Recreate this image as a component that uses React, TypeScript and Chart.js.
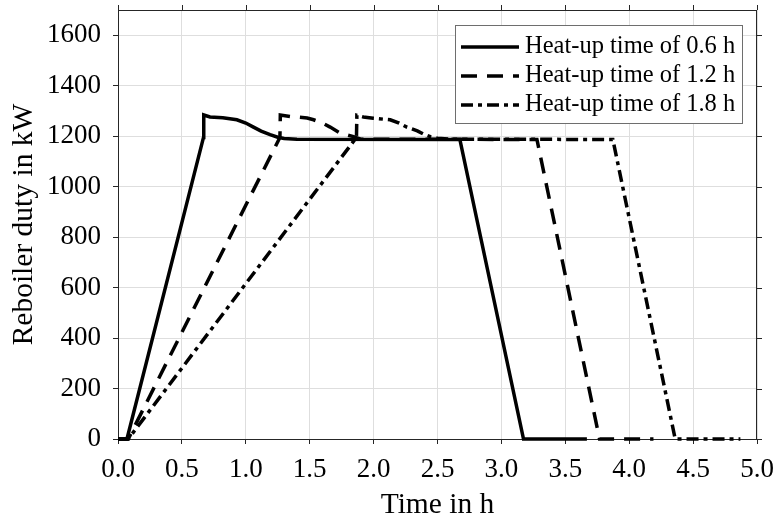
import React, { useEffect, useRef } from 'react';
import { Chart, registerables } from 'chart.js';

Chart.register(...registerables);

// Heat-up time 0.6 h (solid)
const solidTime = [0, 0.07, 0.669, 0.671, 0.72, 0.82, 0.93, 1.0, 1.06, 1.12, 1.19, 1.25, 1.3, 1.4, 2.675, 3.173, 3.669];
const solidDuty = [0, 0, 1195, 1284, 1276, 1273, 1265, 1252, 1236, 1220, 1206, 1196, 1191, 1188, 1187, 0, 0];

// Heat-up time 1.2 h (dashed)
const dashedTime = [0, 0.08, 1.267, 1.27, 1.35, 1.48, 1.53, 1.6, 1.66, 1.74, 1.8, 1.843, 1.9, 3.278, 3.768, 4.19];
const dashedDuty = [0, 0, 1195, 1284, 1278, 1272, 1265, 1252, 1236, 1212, 1204, 1198, 1188, 1187, 0, 0];

// Heat-up time 1.8 h (dash-dot)
const dashDotTime = [0, 0.08, 1.866, 1.869, 1.92, 1.997, 2.13, 2.2, 2.26, 2.342, 2.4, 2.444, 2.5, 2.6, 3.872, 4.36, 4.87];
const dashDotDuty = [0, 0, 1195, 1283, 1276, 1271, 1265, 1252, 1236, 1221, 1206, 1198, 1192, 1188, 1187, 0, 0];

const seriesLabels = ['Heat-up time of 0.6 h', 'Heat-up time of 1.2 h', 'Heat-up time of 1.8 h'];
const xTickValues = [0, 0.5, 1, 1.5, 2, 2.5, 3, 3.5, 4, 4.5, 5];
const yTickValues = [0, 200, 400, 600, 800, 1000, 1200, 1400, 1600];
const xTitle = 'Time in h';
const yTitle = 'Reboiler duty in kW';

const FONT = '"Liberation Serif", "Times New Roman", Times, serif';
const AXIS = '#262626';
const GRID = '#dedede';

export default function App() {
  const ref = useRef<HTMLCanvasElement | null>(null);

  useEffect(() => {
    if (!ref.current) return;
    const pts = (t: number[], v: number[]) => t.map((x, i) => ({ x, y: v[i] }));

    const boxPlugin = {
      id: 'boxAndLegend',
      afterDatasetsDraw(chart: any) {
        const { ctx, chartArea: a, scales } = chart;
        ctx.save();
        ctx.strokeStyle = AXIS;
        ctx.lineWidth = 1;
        ctx.beginPath();
        ctx.moveTo(a.left, a.top + 0.5);
        ctx.lineTo(a.right, a.top + 0.5);
        ctx.moveTo(a.right - 0.5, a.top);
        ctx.lineTo(a.right - 0.5, a.bottom);
        for (const t of xTickValues) {
          const x = Math.round(scales.x.getPixelForValue(t)) + 0.5;
          ctx.moveTo(x, a.top);
          ctx.lineTo(x, a.top - 5);
        }
        for (const v of yTickValues) {
          const y = Math.round(scales.y.getPixelForValue(v)) + 0.5;
          ctx.moveTo(a.right, y);
          ctx.lineTo(a.right + 5, y);
        }
        ctx.stroke();

        // legend
        const bx = 455.5, by = 25.5, bw = 287, bh = 98;
        ctx.fillStyle = '#ffffff';
        ctx.fillRect(bx, by, bw, bh);
        ctx.strokeStyle = '#6e6e6e';
        ctx.lineWidth = 1;
        ctx.strokeRect(bx, by, bw, bh);
        const rows = [47, 76, 105];
        chart.data.datasets.forEach((ds: any, i: number) => {
          const y = rows[i];
          ctx.save();
          ctx.strokeStyle = ds.borderColor;
          ctx.lineWidth = ds.borderWidth;
          ctx.setLineDash(ds.borderDash || []);
          ctx.beginPath();
          ctx.moveTo(461, y);
          ctx.lineTo(519, y);
          ctx.stroke();
          ctx.restore();
          ctx.fillStyle = '#000';
          ctx.font = `24.5px ${FONT}`;
          ctx.textBaseline = 'middle';
          ctx.textAlign = 'left';
          ctx.fillText(ds.label, 525, y);
        });
        ctx.restore();
      },
    };

    const common = {
      showLine: true,
      pointRadius: 0,
      pointHoverRadius: 0,
      borderColor: '#000',
      backgroundColor: '#000',
      borderWidth: 3.5,
      tension: 0,
      fill: false,
      clip: 6,
    };

    const chart = new Chart(ref.current, {
      type: 'scatter',
      data: {
        datasets: [
          { ...common, label: seriesLabels[0], data: pts(solidTime, solidDuty), borderDash: [] },
          { ...common, label: seriesLabels[1], data: pts(dashedTime, dashedDuty), borderDash: [16, 10] },
          { ...common, label: seriesLabels[2], data: pts(dashDotTime, dashDotDuty), borderDash: [12, 5, 4, 5] },
        ],
      },
      options: {
        responsive: false,
        animation: false,
        events: [],
        layout: { padding: { left: 0, right: 21, top: 10, bottom: 0 } },
        plugins: {
          legend: { display: false },
          tooltip: { enabled: false },
        },
        scales: {
          x: {
            type: 'linear',
            min: 0,
            max: 5,
            afterBuildTicks: (s: any) => {
              s.ticks = xTickValues.map((value) => ({ value }));
            },
            afterFit: (s: any) => {
              s.height = 86;
              s.paddingLeft = 0;
              s.paddingRight = 0;
            },
            grid: { color: GRID, lineWidth: 1, drawTicks: true, tickLength: 5, tickColor: AXIS },
            border: { display: true, color: AXIS, width: 1 },
            ticks: {
              color: '#000',
              font: { family: FONT, size: 27 },
              padding: 10,
              maxRotation: 0,
              autoSkip: false,
              callback: (v: any) => Number(v).toFixed(1),
            },
            title: {
              display: true,
              text: xTitle,
              color: '#000',
              font: { family: FONT, size: 29.5 },
              padding: { top: 0, bottom: 2 },
            },
          },
          y: {
            type: 'linear',
            min: 0,
            max: 1700,
            afterBuildTicks: (s: any) => {
              s.ticks = yTickValues.map((value) => ({ value }));
            },
            afterFit: (s: any) => {
              s.width = 118;
              s.paddingTop = 0;
              s.paddingBottom = 0;
            },
            grid: { color: GRID, lineWidth: 1, drawTicks: true, tickLength: 5, tickColor: AXIS },
            border: { display: true, color: AXIS, width: 1 },
            ticks: {
              color: '#000',
              font: { family: FONT, size: 27 },
              padding: 12,
              autoSkip: false,
              callback: (v: any) => String(v),
            },
            title: {
              display: true,
              text: yTitle,
              color: '#000',
              font: { family: FONT, size: 29.5 },
              padding: { top: 7, bottom: 0 },
            },
          },
        },
      },
      plugins: [boxPlugin],
    } as any);

    return () => chart.destroy();
  }, []);

  return (
    <div style={{ position: 'fixed', left: 0, top: 0, width: 778, height: 525, background: '#fff' }}>
      <canvas ref={ref} width={778} height={525} style={{ display: 'block', width: 778, height: 525 }} />
    </div>
  );
}
